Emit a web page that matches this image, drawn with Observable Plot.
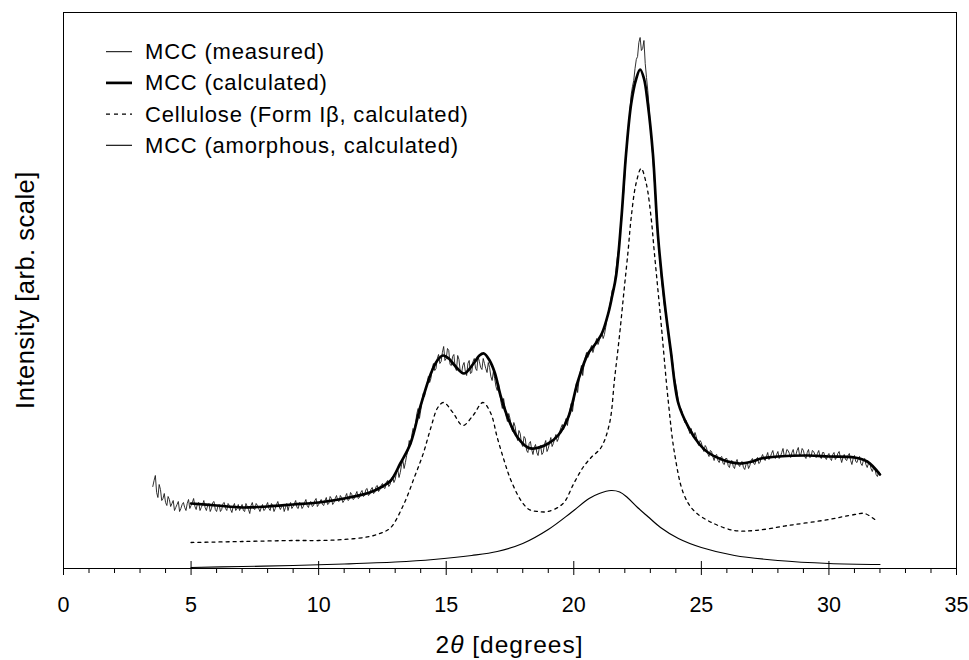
<!DOCTYPE html>
<html><head><meta charset="utf-8">
<script src="https://cdn.jsdelivr.net/npm/d3@7"></script>
<script src="https://cdn.jsdelivr.net/npm/@observablehq/plot@0.6"></script>
<style>
body{margin:0;background:#fff}
svg{font-family:"Liberation Sans",Arial,Helvetica,sans-serif}
</style>
</head><body><div id="chart"></div>
<script>
// ---- data (arbitrary intensity units) ----
const measuredX0 = 3.5, measuredStep = 0.05;
const measuredY = [
82,88,93,76,71,84,79,68,70,75,66,63,72,69,62,65,68,58,61,64,
67,57,60,64,66,61,58,65,69,60,63,66,70,62,59,65,66,58,61,64,
68,61,58,63,65,57,60,66,67,59,57,62,64,57,59,65,66,60,58,65,
63,59,56,62,65,58,60,64,58,61,64,58,57,65,62,59,55,63,66,60,
59,65,63,60,57,61,64,58,59,63,66,60,58,65,63,57,60,64,67,62,
59,62,64,57,61,65,58,63,66,60,62,65,68,61,60,66,65,60,62,66,
69,63,61,66,67,62,63,68,70,62,64,67,69,64,63,68,71,64,65,72,
70,64,66,70,73,68,67,73,71,66,68,72,75,68,69,76,74,69,70,74,
77,70,71,76,78,72,73,79,80,73,74,79,81,75,76,82,83,77,79,83,
85,81,80,86,88,82,84,90,92,86,89,96,99,91,96,104,108,100,106,113,
118,128,123,133,140,138,146,155,160,150,158,168,175,172,180,184,192,186,190,200,
205,198,200,210,214,205,207,216,222,208,210,220,218,204,203,212,214,201,198,213,
209,197,195,203,206,197,193,205,208,195,196,207,210,200,198,212,207,201,199,210,
205,200,196,206,201,192,188,197,190,182,178,185,176,166,160,170,161,152,147,155,
150,141,137,146,142,133,128,138,135,125,122,132,130,118,116,125,127,119,114,121,
124,116,113,121,123,114,116,124,128,117,120,126,131,122,125,130,134,127,130,137,
141,144,139,146,150,143,152,159,165,157,168,178,185,176,187,196,203,193,204,211,
216,211,214,220,223,216,221,226,230,224,228,233,236,230,234,241,250,254,262,268,
278,280,285,298,310,318,330,348,362,374,392,414,432,442,458,474,482,488,500,509,
512,526,531,518,520,528,505,491,478,462,440,428,410,390,375,356,333,318,300,286,
275,263,255,248,236,226,220,211,200,190,184,177,167,161,160,156,150,146,148,143,
139,135,140,134,131,136,132,126,123,128,126,120,117,123,121,115,112,118,117,112,
108,113,114,108,106,111,112,105,104,110,110,103,101,107,108,102,100,106,109,104,
102,106,107,101,99,104,106,100,103,108,110,105,104,109,111,105,106,111,114,110,
108,112,116,109,111,115,118,112,110,114,117,110,112,116,120,112,113,119,118,115,
111,116,119,112,113,118,121,113,114,120,118,112,110,116,119,111,112,118,117,114,
111,115,118,112,110,116,116,111,109,113,115,110,108,114,116,109,111,115,117,111,
106,111,114,109,108,113,115,108,104,110,113,107,106,110,112,105,103,108,110,104,
101,105,106,100,97,101,100,94,92,97,95
];

const calcX = [5.0, 6.0, 7.0, 8.0, 9.0, 10.0, 11.0, 12.0, 12.5, 12.83, 13.2, 13.6, 14.0, 14.4, 14.65, 14.87, 15.1, 15.3, 15.7, 16.1, 16.3, 16.48, 16.7, 16.9, 17.15, 17.46, 17.8, 18.2, 18.45, 19.0, 19.38, 19.78, 20.17, 20.56, 20.8, 21.1, 21.35, 21.5, 21.66, 21.86, 22.05, 22.25, 22.45, 22.6, 22.75, 22.9, 23.1, 23.3, 23.55, 23.8, 24.1, 24.5, 24.9, 25.26, 25.8, 26.5, 27.0, 27.35, 28.0, 29.2, 30.0, 31.0, 31.5, 32.0];
const calcY = [65, 63, 61, 62, 64, 66, 70, 76, 82, 88, 105, 125, 163, 195, 208, 213, 210, 204, 195, 206, 213, 215, 208, 196, 171, 148, 131, 121, 120, 125, 133, 151, 188, 215, 223, 235, 255, 272, 293, 348, 415, 465, 490, 499, 490, 465, 415, 333, 268, 218, 165, 141, 125, 116, 109, 105, 107, 110, 112, 113, 112, 111, 107, 94];

const cellX = [5.0, 7.0, 9.0, 10.0, 11.0, 12.0, 12.5, 12.83, 13.35, 13.75, 14.1, 14.4, 14.67, 14.9, 15.26, 15.65, 16.05, 16.44, 16.75, 17.0, 17.27, 17.54, 17.93, 18.25, 18.6, 18.99, 19.58, 20.0, 20.36, 20.68, 21.07, 21.4, 21.6, 21.8, 21.97, 22.13, 22.25, 22.44, 22.64, 22.84, 23.03, 23.15, 23.3, 23.43, 23.7, 23.95, 24.3, 24.7, 25.4, 26.3, 27.1, 28.4, 30.0, 31.0, 31.4, 31.85];
const cellY = [26, 27, 28, 28, 29, 32, 36, 41, 65, 91, 115, 141, 161, 166, 156, 143, 153, 166, 155, 131, 108, 88, 68, 59, 57, 57, 65, 85, 101, 111, 121, 145, 190, 235, 278, 318, 351, 385, 400, 385, 351, 318, 278, 243, 168, 115, 75, 58, 46, 38, 38, 43, 49, 54, 55, 48];

const amorX = [5.0, 7.0, 9.0, 11.0, 13.0, 14.5, 16.0, 17.0, 18.0, 19.0, 19.9, 20.6, 21.0, 21.46, 21.8, 22.1, 22.5, 22.9, 23.4, 24.1, 25.0, 26.3, 28.0, 30.0, 32.0];
const amorY = [1, 2, 3, 4.5, 6.5, 9, 13, 17, 25, 39, 56, 70, 75, 78, 76.5, 71, 61, 52, 41, 30, 21, 13, 8, 5, 4];

const majorTicks = [0, 5, 10, 15, 20, 25, 30, 35];
const minorTicks = [1,2,3,4,6,7,8,9,11,12,13,14,16,17,18,19,21,22,23,24,26,27,28,29,31,32,33,34];

const legendLabels = ["MCC (measured)", "MCC (calculated)", "Cellulose (Form I\u03B2, calculated)", "MCC (amorphous, calculated)"];
const yLabel = "Intensity [arb. scale]";

// ---- tables ----
const measured = measuredY.map((y, i) => ({x: measuredX0 + i * measuredStep, y}));
const calc = calcX.map((x, i) => ({x, y: calcY[i]}));
const cell = cellX.map((x, i) => ({x, y: cellY[i]}));
const amor = amorX.map((x, i) => ({x, y: amorY[i]}));

const W = 969, H = 660, mL = 63, mR = 13, mT = 12, mB = 92;

const chart = Plot.plot({
  width: W, height: H,
  marginLeft: mL, marginRight: mR, marginTop: mT, marginBottom: mB,
  style: {fontFamily: '"Liberation Sans", Arial, sans-serif', fontSize: "21px", background: "#fff", color: "#000"},
  x: {domain: [0, 35], label: null},
  y: {domain: [0, 556], axis: null, label: null},
  marks: [
    Plot.line(amor, {x: "x", y: "y", stroke: "#000", strokeWidth: 1.2, curve: "catmull-rom"}),
    Plot.line(cell, {x: "x", y: "y", stroke: "#000", strokeWidth: 1.3, strokeDasharray: "3,4", curve: "catmull-rom"}),
    Plot.line(measured, {x: "x", y: "y", stroke: "#1a1a1a", strokeWidth: 0.9}),
    Plot.line(calc, {x: "x", y: "y", stroke: "#000", strokeWidth: 2.7, curve: "catmull-rom"}),
    Plot.frame({stroke: "#000", strokeWidth: 1}),
    Plot.axisX({ticks: minorTicks, tickSize: 5, tickFormat: () => "", label: null}),
    Plot.axisX({ticks: majorTicks, tickSize: 14, dy: -7, tickFormat: () => "", label: null}),
    Plot.axisX({ticks: majorTicks, tickSize: 0, tickPadding: 28, fontSize: 21.5, label: null, tickFormat: d => String(d)})
  ]
});
document.getElementById("chart").appendChild(chart);

const svg = d3.select(chart);
// x title with italic theta
const xt = svg.append("text")
  .attr("x", (mL + W - mR) / 2).attr("y", 653)
  .attr("text-anchor", "middle").attr("font-size", 24.5)
  .attr("letter-spacing", "1px").attr("fill", "#000");
xt.append("tspan").text("2");
xt.append("tspan").attr("font-style", "italic").text("\u03B8");
xt.append("tspan").text(" [degrees]");

// y title
svg.append("text")
  .attr("transform", `translate(34, ${(mT + H - mB) / 2}) rotate(-90)`)
  .attr("text-anchor", "middle").attr("font-size", 25.5)
  .attr("letter-spacing", "0.5px").attr("fill", "#000")
  .text(yLabel);

// legend
const lgWidths = [1, 2.7, 1.1, 1.1];
const lgDash = [null, null, "4,4", null];
legendLabels.forEach((label, i) => {
  const yy = 51.7 + i * 31.2;
  svg.append("line").attr("x1", 106).attr("x2", 132).attr("y1", yy).attr("y2", yy)
    .attr("stroke", "#000").attr("stroke-width", lgWidths[i])
    .attr("stroke-dasharray", lgDash[i]);
  svg.append("text").attr("x", 145).attr("y", yy + 7.5)
    .attr("text-anchor", "start").attr("letter-spacing", "0.8px")
    .attr("font-size", 22).attr("fill", "#000").text(label);
});
</script>
</body></html>
